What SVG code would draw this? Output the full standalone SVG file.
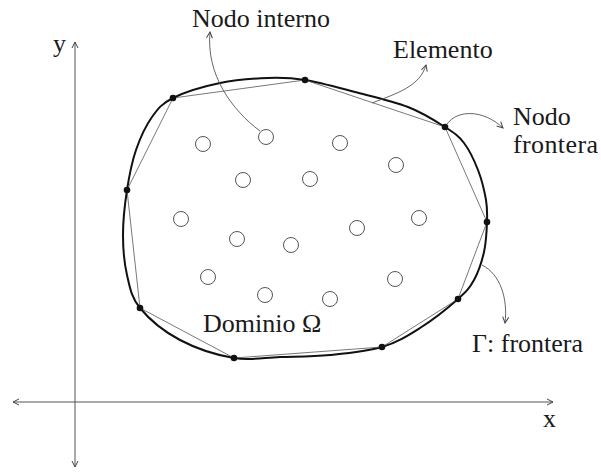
<svg xmlns="http://www.w3.org/2000/svg" width="601" height="473" viewBox="0 0 601 473">
<style>
.lbl{font-family:"Liberation Serif","DejaVu Serif",serif;font-size:26px;fill:#1a1a1a}
.axis{stroke:#555;stroke-width:1;fill:none}
.ann{stroke:#555;stroke-width:0.9;fill:none}
.chord{stroke:#555;stroke-width:0.8;fill:none}
.bnd{stroke:#111;stroke-width:2;fill:none}
.inode{stroke:#555;stroke-width:1;fill:#fff}
.bnode{fill:#111}
</style>
<defs>
<marker id="arr" viewBox="0 0 8 8" refX="7" refY="4" markerWidth="8" markerHeight="8" markerUnits="userSpaceOnUse" orient="auto-start-reverse">
<path d="M1,1 L7,4 L1,7" fill="none" stroke="#444" stroke-width="1"/>
</marker>
</defs>
<rect width="601" height="473" fill="#fff"/>
<g id="axes">
<line class="axis" x1="75" y1="42" x2="75" y2="467" marker-start="url(#arr)" marker-end="url(#arr)"/>
<line class="axis" x1="13" y1="402" x2="553" y2="402" marker-start="url(#arr)" marker-end="url(#arr)"/>
<text class="lbl" x="53" y="52">y</text>
<text class="lbl" x="543" y="427">x</text>
</g>
<g id="boundary">
<path class="bnd" d="M173,98 C184.3,92.3 204.2,86.3 220,83 C235.8,79.7 253.8,78.5 268,78 C282.2,77.5 290.5,77.7 305,80 C319.5,82.3 337.8,87.5 355,92 C372.2,96.5 393,101.2 408,107 C423,112.8 435.7,121 445,127 C454.3,133 458.5,135.8 464,143 C469.5,150.2 474.3,160.5 478,170 C481.7,179.5 484.5,191.3 486,200 C487.5,208.7 487.3,213.3 487,222 C486.7,230.7 486.2,242.3 484,252 C481.8,261.7 478.3,272.2 474,280 C469.7,287.8 467,291 458,299 C449,307 432.7,320 420,328 C407.3,336 397,342.5 382,347 C367,351.5 347,353.3 330,355 C313,356.7 296,356.5 280,357 C264,357.5 250.7,360.8 234,358 C217.3,355.2 195.7,348.3 180,340 C164.3,331.7 148.8,318.8 140,308 C131.2,297.2 129.8,287.2 127,275 C124.2,262.8 123,249.2 123,235 C123,220.8 124.8,204.2 127,190 C129.2,175.8 131.8,162.2 136,150 C140.2,137.8 145.8,125.7 152,117 C158.2,108.3 161.7,103.7 173,98 Z"/>
<text class="lbl" x="203" y="332">Dominio Ω</text>
</g>
<g id="elements">
<polygon class="chord" points="173,98 305,80 445,127 487,222 458,299 382,347 234,358 140,308 127,190"/>
</g>
<g id="boundary-nodes">
<circle class="bnode" cx="173" cy="98" r="3.3"/>
<circle class="bnode" cx="305" cy="80" r="3.3"/>
<circle class="bnode" cx="445" cy="127" r="3.3"/>
<circle class="bnode" cx="487" cy="222" r="3.3"/>
<circle class="bnode" cx="458" cy="299" r="3.3"/>
<circle class="bnode" cx="382" cy="347" r="3.3"/>
<circle class="bnode" cx="234" cy="358" r="3.3"/>
<circle class="bnode" cx="140" cy="308" r="3.3"/>
<circle class="bnode" cx="127" cy="190" r="3.3"/>
</g>
<g id="internal-nodes">
<circle class="inode" cx="266" cy="137" r="7.5"/>
<circle class="inode" cx="203" cy="144" r="7.5"/>
<circle class="inode" cx="340" cy="143" r="7.5"/>
<circle class="inode" cx="396" cy="165" r="7.5"/>
<circle class="inode" cx="243" cy="180" r="7.5"/>
<circle class="inode" cx="310" cy="179" r="7.5"/>
<circle class="inode" cx="181" cy="219" r="7.5"/>
<circle class="inode" cx="237" cy="239" r="7.5"/>
<circle class="inode" cx="291" cy="245" r="7.5"/>
<circle class="inode" cx="357" cy="228" r="7.5"/>
<circle class="inode" cx="419" cy="218" r="7.5"/>
<circle class="inode" cx="208" cy="277" r="7.5"/>
<circle class="inode" cx="265" cy="295" r="7.5"/>
<circle class="inode" cx="330" cy="299" r="7.5"/>
<circle class="inode" cx="395" cy="279" r="7.5"/>
</g>
<g id="connectors">
<path class="ann" d="M260,131 C232,110 206,75 210,32" marker-end="url(#arr)"/>
<path class="ann" d="M372,103 C398,93 420,86 426,65" marker-end="url(#arr)"/>
<path class="ann" d="M447,124 C458,109 484,110 503,128" marker-end="url(#arr)"/>
<path class="ann" d="M482,265 C500,274 508,298 505,323" marker-end="url(#arr)"/>
</g>
<g id="labels">
<text class="lbl" x="192" y="26.5">Nodo interno</text>
<text class="lbl" x="393" y="58">Elemento</text>
<text class="lbl" x="513" y="125">Nodo</text>
<text class="lbl" x="513" y="153" textLength="85" lengthAdjust="spacing">frontera</text>
<text class="lbl" x="472" y="352">Γ: frontera</text>
</g>
</svg>
